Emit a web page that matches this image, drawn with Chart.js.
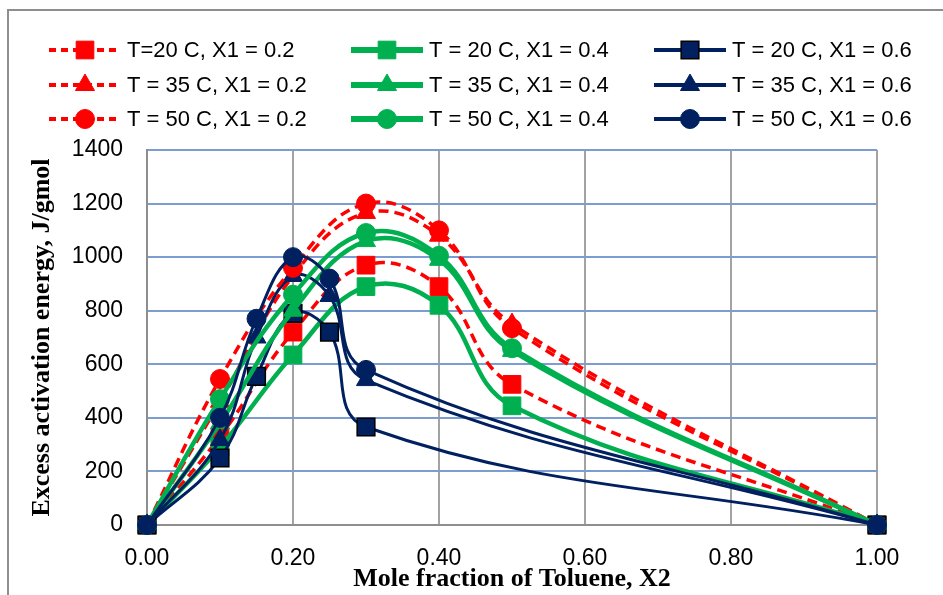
<!DOCTYPE html>
<html>
<head>
<meta charset="utf-8">
<script src="https://cdn.jsdelivr.net/npm/chart.js@4.4.1/dist/chart.umd.min.js"></script>
<style>
  body { margin: 0; background: #fff; }
  #wrap { position: relative; width: 943px; height: 595px; overflow: hidden; }
  #frame { position: absolute; left: 7px; top: 9px; width: 1000px; height: 700px; border: 2px solid #8e8e8e; }
  canvas { position: absolute; left: 0; top: 0; }
</style>
</head>
<body>
<div id="wrap"><div id="frame"></div><canvas id="chart" width="943" height="595"></canvas></div>
<script>
// mole fraction of toluene (X2)
const xLow = [0, 0.1, 0.2, 0.3, 0.4, 0.5, 1.0];       // X1 = 0.2 and 0.4
const xHigh = [0, 0.1, 0.15, 0.2, 0.25, 0.3, 1.0];    // X1 = 0.6

// excess activation energy, J/gmol
const red20 = [0, 330, 720, 970, 890, 525, 0];
const red35 = [0, 460, 930, 1165, 1080, 750, 0];
const red50 = [0, 545, 960, 1200, 1100, 735, 0];
const green20 = [0, 290, 635, 890, 820, 445, 0];
const green35 = [0, 380, 800, 1060, 990, 650, 0];
const green50 = [0, 470, 860, 1090, 1005, 660, 0];
const navy20 = [0, 250, 555, 790, 720, 366, 0];
const navy35 = [0, 317, 700, 930, 855, 541, 0];
const navy50 = [0, 400, 770, 1000, 920, 579, 0];

const seriesLabels = [
  'T=20 C, X1 = 0.2', 'T = 20 C, X1 = 0.4', 'T = 20 C, X1 = 0.6',
  'T = 35 C, X1 = 0.2', 'T = 35 C, X1 = 0.4', 'T = 35 C, X1 = 0.6',
  'T = 50 C, X1 = 0.2', 'T = 50 C, X1 = 0.4', 'T = 50 C, X1 = 0.6'
];
const xTicks = [0, 0.2, 0.4, 0.6, 0.8, 1.0];

const RED = '#ff0000', GREEN = '#00b050', NAVY = '#002060';

// legend grid (3 x 3, like the Excel one)
const legendCols = [49, 351, 654];
const legendRows = [50, 85, 119];

function pts(xs, ys) {
  return xs.map((x, i) => ({ x: x, y: ys[i] }));
}

function series(label, xs, ys, color, shape) {
  const isRed = color === RED, isGreen = color === GREEN;
  const radius = shape === 'rect' ? 12.5 : shape === 'triangle' ? 11 : 9.5;
  return {
    label: label,
    data: pts(xs, ys),
    borderColor: color,
    borderWidth: isGreen ? 4.5 : isRed ? 3.5 : 3,
    borderDash: isRed ? [10, 6] : [],
    legendLineWidth: isGreen ? 6 : 4,
    legendDash: isRed ? [7, 5] : [],
    pointStyle: shape,
    pointRadius: radius,
    pointBackgroundColor: color,
    pointBorderColor: (color === NAVY && shape === 'rect') ? '#000' : color,
    pointBorderWidth: (color === NAVY && shape === 'rect') ? 1.5 : 1,
    tension: 0.4,
    clip: false,
    fill: false
  };
}

const datasets = [
  series(seriesLabels[0], xLow, red20, RED, 'rect'),
  series(seriesLabels[1], xLow, green20, GREEN, 'rect'),
  series(seriesLabels[2], xHigh, navy20, NAVY, 'rect'),
  series(seriesLabels[3], xLow, red35, RED, 'triangle'),
  series(seriesLabels[4], xLow, green35, GREEN, 'triangle'),
  series(seriesLabels[5], xHigh, navy35, NAVY, 'triangle'),
  series(seriesLabels[6], xLow, red50, RED, 'circle'),
  series(seriesLabels[7], xLow, green50, GREEN, 'circle'),
  series(seriesLabels[8], xHigh, navy50, NAVY, 'circle')
];
// later series on top, as in Excel
datasets.forEach((d, i) => { d.order = datasets.length - i; });

const gridLegend = {
  id: 'gridLegend',
  afterDraw(chart) {
    const ctx = chart.ctx;
    chart.data.datasets.forEach((ds, i) => {
      const x0 = legendCols[i % 3];
      const y = legendRows[Math.floor(i / 3)];
      ctx.save();
      ctx.strokeStyle = ds.borderColor;
      ctx.lineWidth = ds.legendLineWidth;
      ctx.setLineDash(ds.legendDash);
      ctx.beginPath();
      ctx.moveTo(x0, y);
      ctx.lineTo(x0 + 72, y);
      ctx.stroke();
      ctx.setLineDash([]);
      ctx.fillStyle = ds.pointBackgroundColor;
      ctx.strokeStyle = ds.pointBorderColor;
      ctx.lineWidth = ds.pointBorderWidth;
      Chart.helpers.drawPoint(ctx, {
        pointStyle: ds.pointStyle,
        radius: ds.pointRadius,
        borderWidth: ds.pointBorderWidth,
        rotation: 0
      }, x0 + 36, y);
      ctx.fillStyle = '#000';
      ctx.font = '22px "Liberation Sans", Arial, sans-serif';
      ctx.textBaseline = 'middle';
      ctx.textAlign = 'left';
      ctx.fillText(ds.label, x0 + 78, y + 1);
      ctx.restore();
    });
  }
};

new Chart(document.getElementById('chart'), {
  type: 'line',
  data: { datasets: datasets },
  options: {
    responsive: false,
    devicePixelRatio: 1,
    animation: false,
    layout: { padding: { top: 150, right: 66, left: 0, bottom: 0 } },
    plugins: { legend: { display: false }, tooltip: { enabled: false } },
    scales: {
      x: {
        type: 'linear',
        min: 0, max: 1,
        afterBuildTicks: (s) => { s.ticks = xTicks.map(v => ({ value: v })); },
        afterFit: (s) => { s.height = 70; },
        ticks: {
          padding: 20,
          color: '#000',
          font: { family: '"Liberation Sans", Arial', size: 23 },
          callback: (v) => Number(v).toFixed(2)
        },
        grid: { color: '#a3a3a3', lineWidth: 2, drawTicks: false },
        border: { color: '#8e8e8e', width: 2 },
        title: {
          display: true,
          text: 'Mole fraction of Toluene, X2',
          color: '#000',
          padding: { top: 0, bottom: 0 },
          font: { family: '"Liberation Serif", "Times New Roman", serif', size: 26, weight: 'bold' }
        }
      },
      y: {
        min: 0, max: 1400,
        afterFit: (s) => { s.width = 147; },
        ticks: {
          stepSize: 200,
          padding: 24,
          color: '#000',
          font: { family: '"Liberation Sans", Arial', size: 23 },
          callback: (v) => String(v)
        },
        grid: { color: '#7c9dd2', lineWidth: 2, drawTicks: false },
        border: { color: '#8e8e8e', width: 2 },
        title: {
          display: true,
          text: 'Excess activation energy, J/gmol',
          color: '#000',
          padding: { top: 27, bottom: 0 },
          font: { family: '"Liberation Serif", "Times New Roman", serif', size: 26, weight: 'bold' }
        }
      }
    }
  },
  plugins: [gridLegend]
});
</script>
</body>
</html>
